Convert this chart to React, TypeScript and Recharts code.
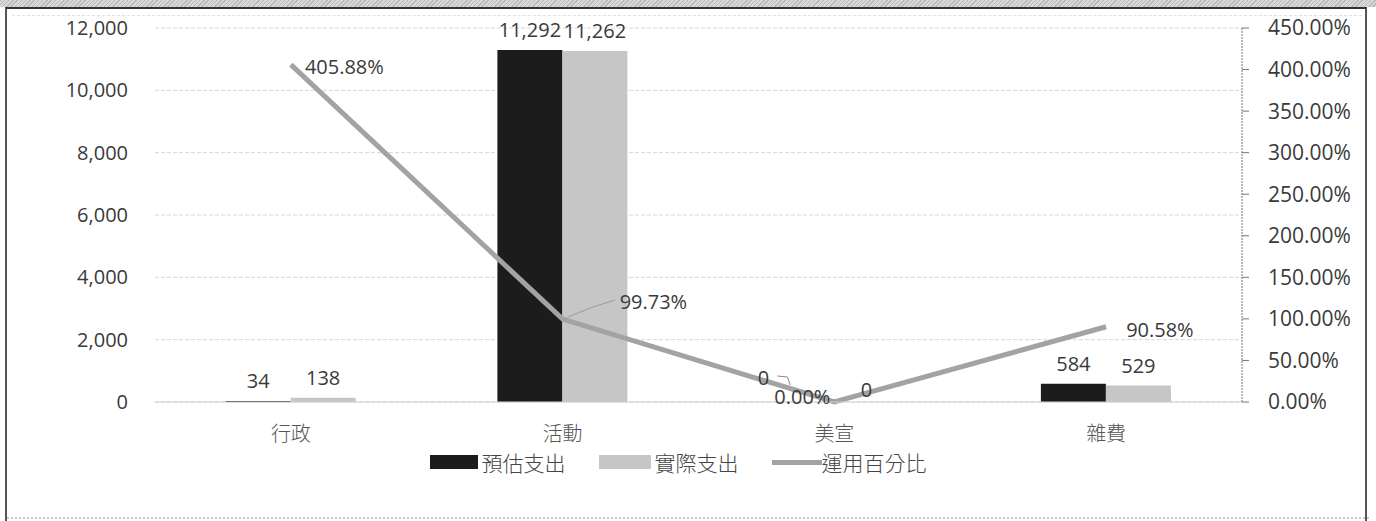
import React from 'react';
import {
  ComposedChart,
  Bar,
  Line,
  XAxis,
  YAxis,
  CartesianGrid,
  Legend,
  LabelList,
} from 'recharts';

// 類別與數值
const categories = ['行政', '活動', '美宣', '雜費'];
const estimated = [34, 11292, 0, 584];
const actual = [138, 11262, 0, 529];
const usageRate = [4.0588, 0.9973, 0, 0.9058];

const leftTicks = [0, 2000, 4000, 6000, 8000, 10000, 12000];
const rightTicks = [0, 0.5, 1, 1.5, 2, 2.5, 3, 3.5, 4, 4.5];

const data = categories.map((name, i) => ({
  name,
  estimated: estimated[i],
  actual: actual[i],
  rate: usageRate[i],
}));

const NUM_FONT = '"Open Sans", "Noto Sans", sans-serif';
const CJK_FONT = '"Noto Sans CJK TC", "Noto Sans CJK SC", sans-serif';
const TEXT = '#3a3a3a';

const fmtNum = (v: number) => v.toLocaleString('en-US');
const fmtPct = (v: number) => `${(v * 100).toFixed(2)}%`;

// 柱狀標籤：值為 0 的柱不會被畫出，改由折線標籤處理
const renderBarLabel = (props: any) => {
  const { x, y, width, value } = props;
  if (Number(value) === 0) return null;
  return (
    <text
      x={Number(x) + Number(width) / 2}
      y={Number(y) - 13}
      textAnchor="middle"
      fontFamily={NUM_FONT}
      fontSize={20}
      fill={TEXT}
    >
      {fmtNum(Number(value))}
    </text>
  );
};

const rateShift = [
  { dx: 14, dy: 9, anchor: 'start' },
  { dx: 57, dy: -10, anchor: 'start' },
  { dx: -4, dy: 2, anchor: 'end' },
  { dx: 20, dy: 10, anchor: 'start' },
];

const renderRateLabel = (props: any) => {
  const { x, y, value, index } = props;
  const s = rateShift[index];
  const px = Number(x);
  const py = Number(y);
  return (
    <g>
      {index === 1 ? (
        <path
          d={`M${px + 5},${py - 2} L${px + 30},${py - 12} L${px + 52},${py - 19}`}
          stroke="#999"
          strokeWidth={1}
          fill="none"
        />
      ) : null}
      {index === 2 ? (
        <g>
          {/* 美宣兩根 0 值柱的標籤（在 Excel 中被拖開） */}
          <text
            x={px - 71}
            y={py - 17}
            textAnchor="middle"
            fontFamily={NUM_FONT}
            fontSize={20}
            fill={TEXT}
          >
            {fmtNum(estimated[2])}
          </text>
          <path
            d={`M${px - 57},${py - 26} L${px - 47},${py - 25} L${px - 44},${py - 17}`}
            stroke="#888"
            strokeWidth={1}
            fill="none"
          />
          <text
            x={px + 32}
            y={py - 5}
            textAnchor="middle"
            fontFamily={NUM_FONT}
            fontSize={20}
            fill={TEXT}
          >
            {fmtNum(actual[2])}
          </text>
        </g>
      ) : null}
      <text
        x={px + s.dx}
        y={py + s.dy}
        textAnchor={s.anchor as any}
        fontFamily={NUM_FONT}
        fontSize={20}
        fill={TEXT}
      >
        {fmtPct(Number(value))}
      </text>
    </g>
  );
};

const legendItems = [
  { label: '預估支出', kind: 'bar', color: '#1c1c1c', w: 48 },
  { label: '實際支出', kind: 'bar', color: '#c6c6c6', w: 52 },
  { label: '運用百分比', kind: 'line', color: '#a3a3a3', w: 50 },
];

const renderLegend = () => (
  <div
    style={{
      display: 'flex',
      justifyContent: 'center',
      alignItems: 'center',
      height: 24,
      lineHeight: '24px',
      paddingRight: 20,
      fontFamily: CJK_FONT,
      fontSize: 21,
      fontWeight: 300,
      color: '#444',
    }}
  >
    {legendItems.map((it, i) => (
      <div
        key={it.label}
        style={{ display: 'flex', alignItems: 'center', marginLeft: i === 0 ? 0 : 33 }}
      >
        <span
          style={{
            display: 'inline-block',
            width: it.w,
            height: it.kind === 'bar' ? 14 : 5,
            background: it.color,
            marginRight: it.kind === 'bar' ? 4 : 0,
          }}
        />
        <span>{it.label}</span>
      </div>
    ))}
  </div>
);

export default function App() {
  return (
    <div
      style={{
        position: 'absolute',
        left: 0,
        top: 0,
        width: 1376,
        height: 521,
        background: '#ffffff',
        overflow: 'hidden',
      }}
    >
      {/* 掃描邊框 */}
      <div
        style={{
          position: 'absolute',
          left: 0,
          top: 0,
          width: 1376,
          height: 7,
          background:
            'repeating-linear-gradient(135deg, #b8b8b8 0px, #b8b8b8 1px, #d8d8d8 1px, #d8d8d8 3px)',
        }}
      />
      <div
        style={{
          position: 'absolute',
          left: 5,
          top: 7,
          width: 1362,
          height: 520,
          borderTop: '2px solid #333',
          borderLeft: '2px solid #555',
          borderRight: '2px solid #555',
          boxSizing: 'border-box',
        }}
      />
      <div
        style={{
          position: 'absolute',
          left: 12,
          top: 15,
          width: 1350,
          borderTop: '1px dashed #e2e2e2',
        }}
      />
      <div
        style={{
          position: 'absolute',
          left: 7,
          top: 517,
          width: 1362,
          borderTop: '2px dotted #c8c8c8',
        }}
      />
      <div style={{ position: 'absolute', left: 0, top: 0 }}>
        <ComposedChart
          width={1376}
          height={521}
          data={data}
          margin={{ top: 28, right: 20, bottom: 47, left: 20 }}
          barCategoryGap="26%"
          barGap={0}
        >
          <CartesianGrid
            yAxisId="left"
            vertical={false}
            stroke="#d6d6d6"
            strokeDasharray="4 2"
          />
          <XAxis
            dataKey="name"
            height={48}
            axisLine={{ stroke: '#cfcfcf' }}
            tickLine={false}
            tickMargin={19}
            tick={{ fontSize: 20, fill: '#555', fontFamily: CJK_FONT, fontWeight: 300 }}
          />
          <YAxis
            yAxisId="left"
            width={135}
            domain={[0, 12000]}
            ticks={leftTicks}
            interval={0}
            axisLine={false}
            tickLine={false}
            tickMargin={21}
            tickFormatter={fmtNum}
            tick={{ fontSize: 20, fill: TEXT, fontFamily: NUM_FONT }}
          />
          <YAxis
            yAxisId="right"
            orientation="right"
            width={114}
            domain={[0, 4.5]}
            ticks={rightTicks}
            interval={0}
            axisLine={{ stroke: '#777', strokeDasharray: '2 1' }}
            tickLine={{ stroke: '#777' }}
            tickSize={7}
            tickMargin={19}
            tickFormatter={fmtPct}
            tick={{ fontSize: 21, fill: TEXT, fontFamily: NUM_FONT }}
          />
          <Legend verticalAlign="bottom" content={renderLegend} />
          <Bar
            yAxisId="left"
            dataKey="estimated"
            name="預估支出"
            fill="#1c1c1c"
            isAnimationActive={false}
          >
            <LabelList dataKey="estimated" content={renderBarLabel} />
          </Bar>
          <Bar
            yAxisId="left"
            dataKey="actual"
            name="實際支出"
            fill="#c6c6c6"
            isAnimationActive={false}
          >
            <LabelList dataKey="actual" content={renderBarLabel} />
          </Bar>
          <Line
            yAxisId="right"
            type="linear"
            dataKey="rate"
            name="運用百分比"
            stroke="#a3a3a3"
            strokeWidth={5}
            dot={false}
            isAnimationActive={false}
          >
            <LabelList dataKey="rate" content={renderRateLabel} />
          </Line>
        </ComposedChart>
      </div>
    </div>
  );
}
